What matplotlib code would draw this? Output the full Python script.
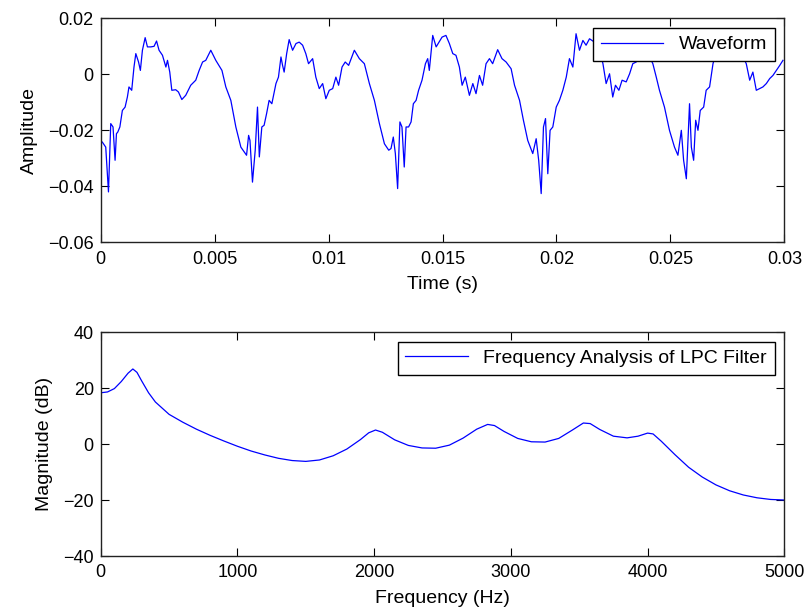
import numpy as np
import matplotlib
matplotlib.use("Agg")
import matplotlib.pyplot as plt
from matplotlib.ticker import FuncFormatter

plt.rcParams['font.family'] = ['Liberation Sans', 'DejaVu Sans']
plt.rcParams['font.size'] = 13

# waveform: time in ms, amplitude in units of 1e-3
t_ms = [0.07, 0.22, 0.34, 0.44, 0.54, 0.63, 0.69, 0.75, 0.84, 0.95, 1.07, 1.17,
        1.24, 1.36, 1.46, 1.54, 1.66, 1.74, 1.83, 1.95, 2.05, 2.20, 2.34, 2.45,
        2.56, 2.71, 2.86, 2.93, 3.03, 3.12, 3.29, 3.41, 3.56, 3.73, 3.95, 4.17,
        4.32, 4.47, 4.61, 4.83, 5.05, 5.32, 5.49, 5.71, 5.93, 6.15, 6.30, 6.40,
        6.49, 6.55, 6.66, 6.78, 6.88, 6.96, 7.07, 7.17, 7.28, 7.39, 7.51, 7.69,
        7.80, 7.91, 7.98, 8.05, 8.16, 8.27, 8.42, 8.57, 8.71, 8.86, 9.00, 9.12,
        9.30, 9.44, 9.59, 9.74, 9.88, 10.03, 10.18, 10.32, 10.44, 10.59, 10.73, 10.88,
        11.13, 11.35, 11.57, 11.79, 12.01, 12.23, 12.45, 12.64, 12.74, 12.84, 12.93, 13.03,
        13.13, 13.22, 13.32, 13.40, 13.51, 13.62, 13.72, 13.84, 13.95, 14.10, 14.25, 14.35,
        14.42, 14.57, 14.72, 14.98, 15.15, 15.30, 15.45, 15.59, 15.74, 15.86, 16.00, 16.18,
        16.33, 16.47, 16.62, 16.76, 16.91, 17.06, 17.20, 17.42, 17.61, 17.79, 18.01, 18.16,
        18.38, 18.55, 18.74, 18.96, 19.11, 19.22, 19.33, 19.43, 19.52, 19.62, 19.72, 19.84,
        19.99, 20.13, 20.28, 20.43, 20.57, 20.72, 20.86, 21.01, 21.16, 21.30, 21.45, 21.67,
        21.89, 22.04, 22.18, 22.33, 22.47, 22.59, 22.74, 22.88, 23.06, 23.21, 23.35, 23.50,
        23.72, 23.94, 24.16, 24.23, 24.38, 24.52, 24.74, 24.96, 25.18, 25.33, 25.48, 25.58,
        25.70, 25.77, 25.84, 25.92, 26.02, 26.11, 26.21, 26.31, 26.46, 26.57, 26.72, 26.87,
        27.16, 27.38, 27.60, 27.82, 28.04, 28.33, 28.48, 28.62, 28.77, 28.92, 29.06, 29.21,
        29.36, 29.50, 29.65, 29.80, 29.94]
amp_milli = [-24.2, -26.0, -42.0, -17.6, -18.8, -30.7, -21.2, -20.6, -18.8, -12.9, -11.7, -8.1,
             -4.5, -5.7, 2.6, 7.4, 4.4, 1.4, 8.6, 13.1, 9.8, 9.8, 10.0, 11.9,
             8.6, 6.8, 2.6, 5.0, 0.8, -5.7, -5.5, -6.3, -9.0, -7.5, -3.9, -2.1,
             1.4, 4.4, 5.0, 8.6, 5.0, 1.4, -4.5, -9.3, -18.8, -26.0, -27.7, -28.9,
             -21.8, -23.6, -38.5, -27.1, -11.7, -29.5, -18.8, -18.2, -14.0, -9.3, -10.5, -3.3,
             -1.0, 6.2, 3.2, 0.8, 7.4, 12.4, 8.6, 11.0, 11.5, 10.4, 7.4, 3.8,
             5.6, -1.0, -5.1, -3.3, -8.7, -5.7, -5.1, -1.0, -3.9, 2.6, 4.4, 3.2,
             8.6, 5.6, 3.8, -3.3, -9.3, -17.6, -24.8, -27.1, -26.5, -22.4, -28.3, -40.8,
             -17.0, -18.8, -33.1, -18.8, -18.8, -17.0, -10.5, -9.3, -5.7, -2.1, 3.8, 5.6,
             1.4, 13.9, 9.8, 13.3, 13.9, 11.0, 7.4, 6.8, 2.6, -3.9, -1.0, -7.5,
             -3.3, -6.9, -0.4, -3.9, 3.8, 5.6, 3.8, 8.8, 5.6, 4.4, 2.0, -3.9,
             -9.3, -16.4, -23.6, -28.3, -23.0, -30.7, -42.6, -18.8, -15.8, -35.5, -20.0, -18.8,
             -11.7, -9.3, -5.7, -1.0, 5.6, 2.6, 14.5, 8.6, 12.1, 10.4, 12.7, 11.5,
             8.6, 3.8, -3.3, 0.2, -8.1, -3.9, -5.7, -2.1, -2.7, 0.2, 3.8, 4.4,
             9.8, 11.0, 5.0, 3.8, -1.0, -5.7, -11.7, -20.0, -26.0, -28.9, -20.0, -30.7,
             -37.3, -23.6, -10.5, -26.0, -30.7, -16.4, -20.0, -12.9, -11.7, -5.7, -4.5, 3.8,
             12.1, 13.3, 11.5, 11.0, 8.6, 3.8, -2.1, 0.8, -5.7, -5.1, -4.5, -3.3,
             -1.5, -0.4, 1.4, 3.2, 5.0]

# LPC filter response
freq_hz = [0, 50, 100, 150, 200, 235, 265, 300, 350, 400, 500, 600, 700, 800, 900,
           1000, 1100, 1200, 1300, 1400, 1500, 1600, 1700, 1800, 1900, 1960, 2010,
           2060, 2150, 2250, 2350, 2450, 2550, 2650, 2750, 2830, 2880, 2950, 3050,
           3150, 3250, 3350, 3450, 3530, 3580, 3650, 3750, 3850, 3930, 4000, 4040,
           4100, 4200, 4300, 4400, 4500, 4600, 4700, 4800, 4900, 5000]
mag_db = [18.3, 18.6, 19.8, 22.3, 25.3, 26.8, 25.6, 22.5, 18.3, 15.0, 10.6, 7.8, 5.3, 3.1, 1.1,
          -0.8, -2.5, -3.9, -5.1, -5.9, -6.2, -5.7, -4.2, -1.8, 1.6, 4.0, 5.0,
          4.2, 1.5, -0.5, -1.4, -1.5, -0.4, 2.1, 5.3, 7.0, 6.6, 4.5, 2.0,
          0.8, 0.7, 2.0, 5.0, 7.5, 7.3, 5.2, 2.8, 2.2, 2.8, 3.9, 3.6,
          1.0, -3.8, -8.3, -11.8, -14.6, -16.7, -18.2, -19.2, -19.8, -20.0]

fig = plt.figure(figsize=(8.09, 6.09), dpi=100)
ax1 = fig.add_axes([0.1245, 0.6021, 0.845, 0.3678])
ax2 = fig.add_axes([0.1245, 0.0870, 0.845, 0.3678])

ax1.plot(np.array(t_ms) * 1e-3, np.array(amp_milli) * 1e-3, color='#0000ff', lw=0.9,
         label='Waveform')
ax1.set_xlim(0, 0.03)
ax1.set_ylim(-0.06, 0.02)
ax1.set_xticks([0, 0.005, 0.01, 0.015, 0.02, 0.025, 0.03])
ax1.set_yticks([-0.06, -0.04, -0.02, 0, 0.02])
ax1.set_xlabel('Time (s)', fontsize=14, labelpad=6)
ax1.set_ylabel('Amplitude', fontsize=14, labelpad=7)

ax2.plot(freq_hz, mag_db, color='#0000ff', lw=0.9,
         label='Frequency Analysis of LPC Filter')
ax2.set_xlim(0, 5000)
ax2.set_ylim(-40, 40)
ax2.set_xticks([0, 1000, 2000, 3000, 4000, 5000])
ax2.set_yticks([-40, -20, 0, 20, 40])
ax2.set_xlabel('Frequency (Hz)', fontsize=14, labelpad=6)
ax2.set_ylabel('Magnitude (dB)', fontsize=14, labelpad=7)

fmt = FuncFormatter(lambda v, p: ('%g' % v).replace('-', '\u2212'))
for ax in (ax1, ax2):
    ax.xaxis.set_major_formatter(fmt)
    ax.yaxis.set_major_formatter(fmt)
    ax.tick_params(direction='in', top=True, right=True, length=6, width=0.8,
                   labelsize=13)
    ax.tick_params(axis='x', pad=6)
    ax.tick_params(axis='y', pad=5)
    for s in ax.spines.values():
        s.set_linewidth(1.0)
        s.set_color('#222222')
    leg = ax.legend(loc='upper right', fancybox=False, edgecolor='black',
                    framealpha=1, handlelength=3.2, borderaxespad=0.5, fontsize=14)
    leg.get_frame().set_linewidth(1.0)

fig.savefig('out.png', dpi=100)
